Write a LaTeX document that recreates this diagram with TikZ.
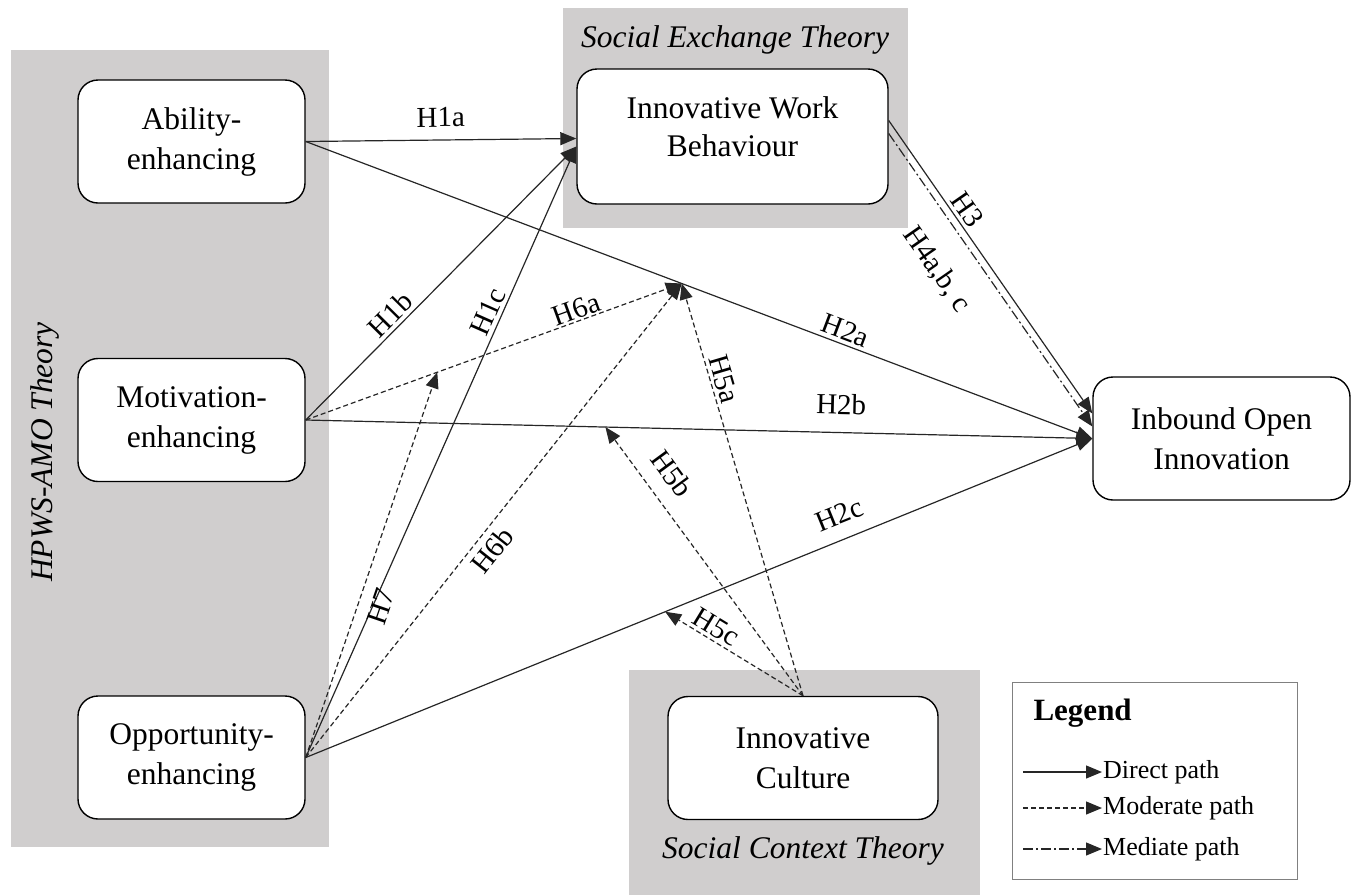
\documentclass[tikz,border=0pt]{standalone}
\usepackage{fontspec}
\setmainfont{Liberation Serif}
\usetikzlibrary{arrows.meta}
\definecolor{theorygray}{RGB}{208,206,206}
\definecolor{linegray}{RGB}{38,38,38}
\begin{document}
\begin{tikzpicture}[x=1pt, y=-1pt,
    box/.style={draw=black, line width=1.4pt, fill=white, rounded corners=20pt,
      minimum width=227pt, minimum height=123pt, align=center,
      font=\fontsize{31.5}{40}\selectfont},
    boxtxt/.style={align=center, font=\fontsize{31.5}{38}\selectfont},
    theory/.style={fill=theorygray},
    thlbl/.style={font=\fontsize{31.5}{36}\selectfont\itshape},
    hyp/.style={font=\fontsize{29}{34}\selectfont, sloped},
    direct/.style={-{Triangle[length=16pt,width=13pt]}, line width=1.2pt, draw=linegray},
    moderate/.style={direct, dash pattern=on 5pt off 3pt},
    mediate/.style={direct, dash pattern=on 10pt off 3pt on 2pt off 3pt},
    legtxt/.style={anchor=west, inner sep=1pt, font=\fontsize{26}{30}\selectfont}
  ]
  \useasboundingbox (0,0) rectangle (1356,895);

  % theory areas
  \fill[theory] (11,50) rectangle (329,847);
  \fill[theory] (563,8) rectangle (908,228);
  \fill[theory] (629,670) rectangle (980,895);
  \node[thlbl, rotate=90] (amo) at (45,452) {HPWS-AMO Theory};
  \node[thlbl] (set) at (735,40) {Social Exchange Theory};
  \node[thlbl] (sct) at (803,851) {Social Context Theory};

  % constructs
  \node[box] (abil) at (191.5,141.5) {Ability-\\enhancing};
  \node[box] (moti) at (191.5,420) {Motivation-\\enhancing};
  \node[box] (oppo) at (191.5,757.5) {Opportunity-\\enhancing};
  \node[box, minimum width=311pt, minimum height=135pt] (iwb) at (732.5,136.5) {};
  \node[boxtxt] (iwbt) at (732.5,127) {Innovative Work\\Behaviour};
  \node[box, minimum width=257pt] (inb) at (1221.5,438.5) {Inbound Open\\Innovation};
  \node[box, minimum width=270pt] (cult) at (803,758) {Innovative\\Culture};

  % direct paths
  \draw[direct] (abil.east) -- node[hyp, above=9pt] (h1a) {H1a} ([yshift=-2pt]iwb.west);
  \draw[direct] (moti.east) -- node[hyp, pos=0.35, above] (h1b) {H1b} ([yshift=-10pt]iwb.west);
  \draw[direct] (oppo.east) -- node[hyp, pos=0.72, above] (h1c) {H1c} ([yshift=-10pt]iwb.west);
  \draw[direct] (abil.east) -- coordinate[pos=0.478] (m2a)
    node[hyp, pos=0.68, above] (h2a) {H2a} (inb.west);
  \draw[direct] (moti.east) -- coordinate[pos=0.381] (m2b)
    node[hyp, pos=0.68, above=14pt] (h2b) {H2b} (inb.west);
  \draw[direct] (oppo.east) -- coordinate[pos=0.457] (m2c)
    node[hyp, pos=0.69, above=11pt] (h2c) {H2c} (inb.west);
  \draw[direct] ([yshift=16pt]iwb.east) -- node[hyp, pos=0.33, above] (h3) {H3} ([yshift=25pt]inb.west);

  % mediate path
  \draw[mediate] ([yshift=3pt]iwb.east) -- node[hyp, pos=0.39, below=22pt] (h4) {H4a,b, c} ([yshift=12pt]inb.west);

  % moderate paths
  \draw[moderate] (moti.east) -- coordinate[pos=0.35] (m6a)
    node[hyp, pos=0.73, above=-2pt] (h6a) {H6a} (m2a);
  \draw[moderate] (oppo.east) -- node[hyp, pos=0.46, below=3pt] (h6b) {H6b} (m2a);
  \draw[moderate] (oppo.east) -- node[hyp, pos=0.41, below=9pt] (h7) {H7} (m6a);
  \draw[moderate] (cult.north) -- node[hyp, pos=0.76, above] (h5a) {H5a} (m2a);
  \draw[moderate] (cult.north) -- node[hyp, pos=0.77, above=12pt] (h5b) {H5b} (m2b);
  \draw[moderate] (cult.north) -- node[hyp, pos=0.68, above] (h5c) {H5c} (m2c);

  % legend
  \draw[gray, line width=1pt] (1012,682) rectangle (1297,879);
  \node[anchor=west, font=\fontsize{31}{36}\selectfont\bfseries] (leg) at (1030,713) {Legend};
  \coordinate (ldir) at (1023,772);
  \coordinate (lmod) at (1023,808);
  \coordinate (lmed) at (1023,849);
  \node[legtxt] (tdir) at (1102,772) {Direct path};
  \node[legtxt] (tmod) at (1102,808) {Moderate path};
  \node[legtxt] (tmed) at (1102,849) {Mediate path};
  \draw[direct] (ldir) -- (tdir.west);
  \draw[moderate] (lmod) -- (tmod.west);
  \draw[mediate] (lmed) -- (tmed.west);
\end{tikzpicture}
\end{document}
